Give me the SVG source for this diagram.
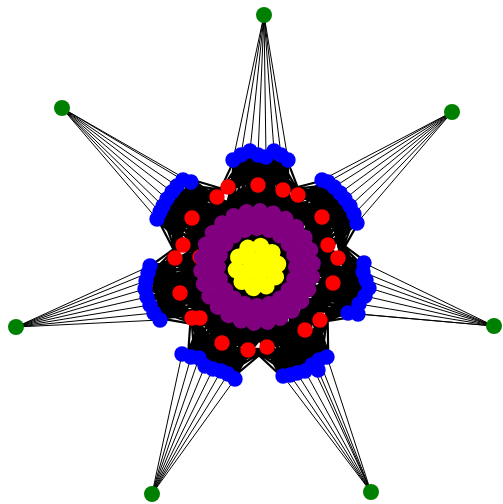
<svg xmlns="http://www.w3.org/2000/svg" xmlns:xlink="http://www.w3.org/1999/xlink" width="503" height="504" viewBox="0 0 503 504">
<style>
.e{fill:none;stroke:#000;stroke-width:1;stroke-linejoin:round}
.f{fill:none;stroke:#000;stroke-width:2.2;stroke-linejoin:round}
.s{fill:none;stroke:#000;stroke-width:3}
.g{fill:#008000}.b{fill:#0000ff}.r{fill:#ff0000}.pu{fill:#800080}.y{fill:#ffff00}
</style>
<defs>
<path id="fan" class="f" d="M228.3 217.8L232.4 160.3 235.4 214 232.4 160.3 243 211.2 232.4 160.3 250.9 209.6 232.4 160.3 259 209 232.4 160.3 267.1 209.6 232.4 160.3 275 211.2 232.4 160.3 282.6 214 232.4 160.3 289.7 217.8 232.4 160.3 259 185 232.4 160.3 287 190 232.4 160.3 300 196 232.4 160.3 229 191 232.4 160.3 216 197
M228.3 217.8L239.9 158.7 235.4 214 239.9 158.7 243 211.2 239.9 158.7 250.9 209.6 239.9 158.7 259 209 239.9 158.7 267.1 209.6 239.9 158.7 275 211.2 239.9 158.7 282.6 214 239.9 158.7 289.7 217.8 239.9 158.7 259 185 239.9 158.7 287 190 239.9 158.7 300 196 239.9 158.7 229 191 239.9 158.7 216 197
M228.3 217.8L247.5 157.6 235.4 214 247.5 157.6 243 211.2 247.5 157.6 250.9 209.6 247.5 157.6 259 209 247.5 157.6 267.1 209.6 247.5 157.6 275 211.2 247.5 157.6 282.6 214 247.5 157.6 289.7 217.8 247.5 157.6 259 185 247.5 157.6 287 190 247.5 157.6 300 196 247.5 157.6 229 191 247.5 157.6 216 197
M228.3 217.8L255.2 157.1 235.4 214 255.2 157.1 243 211.2 255.2 157.1 250.9 209.6 255.2 157.1 259 209 255.2 157.1 267.1 209.6 255.2 157.1 275 211.2 255.2 157.1 282.6 214 255.2 157.1 289.7 217.8 255.2 157.1 259 185 255.2 157.1 287 190 255.2 157.1 300 196 255.2 157.1 229 191 255.2 157.1 216 197
M228.3 217.8L262.8 157.1 235.4 214 262.8 157.1 243 211.2 262.8 157.1 250.9 209.6 262.8 157.1 259 209 262.8 157.1 267.1 209.6 262.8 157.1 275 211.2 262.8 157.1 282.6 214 262.8 157.1 289.7 217.8 262.8 157.1 259 185 262.8 157.1 287 190 262.8 157.1 300 196 262.8 157.1 229 191 262.8 157.1 216 197
M228.3 217.8L270.5 157.6 235.4 214 270.5 157.6 243 211.2 270.5 157.6 250.9 209.6 270.5 157.6 259 209 270.5 157.6 267.1 209.6 270.5 157.6 275 211.2 270.5 157.6 282.6 214 270.5 157.6 289.7 217.8 270.5 157.6 259 185 270.5 157.6 287 190 270.5 157.6 300 196 270.5 157.6 229 191 270.5 157.6 216 197
M228.3 217.8L278.1 158.7 235.4 214 278.1 158.7 243 211.2 278.1 158.7 250.9 209.6 278.1 158.7 259 209 278.1 158.7 267.1 209.6 278.1 158.7 275 211.2 278.1 158.7 282.6 214 278.1 158.7 289.7 217.8 278.1 158.7 259 185 278.1 158.7 287 190 278.1 158.7 300 196 278.1 158.7 229 191 278.1 158.7 216 197
M228.3 217.8L285.6 160.3 235.4 214 285.6 160.3 243 211.2 285.6 160.3 250.9 209.6 285.6 160.3 259 209 285.6 160.3 267.1 209.6 285.6 160.3 275 211.2 285.6 160.3 282.6 214 285.6 160.3 289.7 217.8 285.6 160.3 259 185 285.6 160.3 287 190 285.6 160.3 300 196 285.6 160.3 229 191 285.6 160.3 216 197
M243 211.2L259 185 250.9 209.6 259 185 259 209 259 185 267.1 209.6 259 185 275 211.2
M267.1 209.6L287 190 275 211.2 287 190 282.6 214 287 190 289.7 217.8 287 190 296.3 222.6
M282.6 214L300 196 289.7 217.8 300 196 296.3 222.6 300 196 302.1 228.2
M221.7 222.6L229 191 228.3 217.8 229 191 235.4 214 229 191 243 211.2 229 191 250.9 209.6
M215.9 228.2L216 197 221.7 222.6 216 197 228.3 217.8 216 197 235.4 214"/>
<path id="spk" class="s" d="M257 225L257 309M264.3 225.6L249.7 308.4M271.4 227.5L242.6 306.5M278 230.6L236 303.4M284 234.8L230 299.2M289.2 240L224.8 294M293.4 246L220.6 288M296.5 252.6L217.5 281.4M298.4 259.7L215.6 274.3M299 267L215 267M298.4 274.3L215.6 259.7M296.5 281.4L217.5 252.6M293.4 288L220.6 246M289.2 294L224.8 240M284 299.2L230 234.8M278 303.4L236 230.6M271.4 306.5L242.6 227.5M264.3 308.4L249.7 225.6"/>
<circle id="pa" class="pu" cx="257" cy="228" r="8"/>
<circle id="pb" class="pu" cx="257" cy="219.5" r="8"/>
<circle id="pc" class="pu" cx="257" cy="211" r="8"/>
<circle id="ya" class="y" cx="257" cy="246" r="8.5"/>
<circle id="yb" class="y" cx="257" cy="257" r="8.5"/>
</defs>
<g id="connectors">
<path class="e" d="M264 15L233 160M264 15L241 155M264 15L250 151M264 15L258 155M264 15L266 157M264 15L274 151M264 15L281 155M264 15L288 160"/>
<path class="e" d="M452 112L322 180M452 112L328 182M452 112L334 187M452 112L340 193M452 112L345 199M452 112L350 206M452 112L354 214M452 112L357 223"/>
<path class="e" d="M494 326L364 263M494 326L363 272M494 326L366 280M494 326L369 288M494 326L365 296M494 326L359 304M494 326L348 313M494 326L358 314"/>
<path class="e" d="M371 492L327 357M371 492L319 360M371 492L312 365M371 492L318 370M371 492L305 371M371 492L297 373M371 492L290 375M371 492L283 376"/>
<path class="e" d="M152 494L182 354M152 494L191 357M152 494L199 358M152 494L205 366M152 494L213 369M152 494L221 371M152 494L228 374M152 494L235 379"/>
<path class="e" d="M16 327L150 266M16 327L148 273M16 327L146 281M16 327L145 289M16 327L147 297M16 327L150 305M16 327L154 313M16 327L160 320"/>
<path class="e" d="M62 108L191 182M62 108L183 180M62 108L177 186M62 108L172 192M62 108L167 199M62 108L163 206M62 108L160 212M62 108L157 219"/>
<use href="#fan" transform="rotate(1 259 267)"/>
<use href="#fan" transform="rotate(51.5 259 267)"/>
<use href="#fan" transform="rotate(102.5 259 267)"/>
<use href="#fan" transform="rotate(155 259 267)"/>
<use href="#fan" transform="rotate(206 259 267)"/>
<use href="#fan" transform="rotate(256 259 267)"/>
<use href="#fan" transform="rotate(308.5 259 267)"/>
<use href="#spk"/>
<use href="#spk" transform="rotate(2.5 257 267)"/>
<use href="#spk" transform="rotate(5 257 267)"/>
<use href="#spk" transform="rotate(7.5 257 267)"/>
</g>
<g id="red-nodes">
<g id="r1"><circle class="r" cx="258" cy="185" r="7.7"/></g>
<g id="r2"><circle class="r" cx="228" cy="187" r="7.7"/></g>
<g id="r3"><circle class="r" cx="217" cy="197" r="7.7"/></g>
<g id="r4"><circle class="r" cx="283" cy="190" r="7.7"/></g>
<g id="r5"><circle class="r" cx="298" cy="195" r="7.7"/></g>
<g id="r6"><circle class="r" cx="322" cy="217" r="7.7"/></g>
<g id="r7"><circle class="r" cx="328" cy="245" r="7.7"/></g>
<g id="r8"><circle class="r" cx="338" cy="258" r="7.7"/></g>
<g id="r9"><circle class="r" cx="333" cy="283" r="7.7"/></g>
<g id="r10"><circle class="r" cx="320" cy="320" r="7.7"/></g>
<g id="r11"><circle class="r" cx="305" cy="330" r="7.7"/></g>
<g id="r12"><circle class="r" cx="267" cy="347" r="7.7"/></g>
<g id="r13"><circle class="r" cx="248" cy="350" r="7.7"/></g>
<g id="r14"><circle class="r" cx="222" cy="343" r="7.7"/></g>
<g id="r15"><circle class="r" cx="200" cy="318" r="7.7"/></g>
<g id="r16"><circle class="r" cx="192" cy="318" r="7.7"/></g>
<g id="r17"><circle class="r" cx="180" cy="293" r="7.7"/></g>
<g id="r18"><circle class="r" cx="175" cy="258" r="7.7"/></g>
<g id="r19"><circle class="r" cx="183" cy="245" r="7.7"/></g>
<g id="r20"><circle class="r" cx="192" cy="218" r="7.7"/></g>
<g id="r21"><circle class="r" cx="200" cy="257" r="7.7"/></g>
</g>
<g id="purple-nodes">
<g id="pa0" transform="rotate(0 257 267)"><use href="#pa"/></g>
<g id="pa1" transform="rotate(18 257 267)"><use href="#pa"/></g>
<g id="pa2" transform="rotate(36 257 267)"><use href="#pa"/></g>
<g id="pa3" transform="rotate(54 257 267)"><use href="#pa"/></g>
<g id="pa4" transform="rotate(72 257 267)"><use href="#pa"/></g>
<g id="pa5" transform="rotate(90 257 267)"><use href="#pa"/></g>
<g id="pa6" transform="rotate(108 257 267)"><use href="#pa"/></g>
<g id="pa7" transform="rotate(126 257 267)"><use href="#pa"/></g>
<g id="pa8" transform="rotate(144 257 267)"><use href="#pa"/></g>
<g id="pa9" transform="rotate(162 257 267)"><use href="#pa"/></g>
<g id="pa10" transform="rotate(180 257 267)"><use href="#pa"/></g>
<g id="pa11" transform="rotate(198 257 267)"><use href="#pa"/></g>
<g id="pa12" transform="rotate(216 257 267)"><use href="#pa"/></g>
<g id="pa13" transform="rotate(234 257 267)"><use href="#pa"/></g>
<g id="pa14" transform="rotate(252 257 267)"><use href="#pa"/></g>
<g id="pa15" transform="rotate(270 257 267)"><use href="#pa"/></g>
<g id="pa16" transform="rotate(288 257 267)"><use href="#pa"/></g>
<g id="pa17" transform="rotate(306 257 267)"><use href="#pa"/></g>
<g id="pa18" transform="rotate(324 257 267)"><use href="#pa"/></g>
<g id="pa19" transform="rotate(342 257 267)"><use href="#pa"/></g>
<g id="pb0" transform="rotate(8 257 267)"><use href="#pb"/></g>
<g id="pb1" transform="rotate(24.36 257 267)"><use href="#pb"/></g>
<g id="pb2" transform="rotate(40.73 257 267)"><use href="#pb"/></g>
<g id="pb3" transform="rotate(57.09 257 267)"><use href="#pb"/></g>
<g id="pb4" transform="rotate(73.45 257 267)"><use href="#pb"/></g>
<g id="pb5" transform="rotate(89.82 257 267)"><use href="#pb"/></g>
<g id="pb6" transform="rotate(106.18 257 267)"><use href="#pb"/></g>
<g id="pb7" transform="rotate(122.55 257 267)"><use href="#pb"/></g>
<g id="pb8" transform="rotate(138.91 257 267)"><use href="#pb"/></g>
<g id="pb9" transform="rotate(155.27 257 267)"><use href="#pb"/></g>
<g id="pb10" transform="rotate(171.64 257 267)"><use href="#pb"/></g>
<g id="pb11" transform="rotate(188 257 267)"><use href="#pb"/></g>
<g id="pb12" transform="rotate(204.36 257 267)"><use href="#pb"/></g>
<g id="pb13" transform="rotate(220.73 257 267)"><use href="#pb"/></g>
<g id="pb14" transform="rotate(237.09 257 267)"><use href="#pb"/></g>
<g id="pb15" transform="rotate(253.45 257 267)"><use href="#pb"/></g>
<g id="pb16" transform="rotate(269.82 257 267)"><use href="#pb"/></g>
<g id="pb17" transform="rotate(286.18 257 267)"><use href="#pb"/></g>
<g id="pb18" transform="rotate(302.55 257 267)"><use href="#pb"/></g>
<g id="pb19" transform="rotate(318.91 257 267)"><use href="#pb"/></g>
<g id="pb20" transform="rotate(335.27 257 267)"><use href="#pb"/></g>
<g id="pb21" transform="rotate(351.64 257 267)"><use href="#pb"/></g>
<g id="pc0" transform="rotate(3 257 267)"><use href="#pc"/></g>
<g id="pc1" transform="rotate(16.85 257 267)"><use href="#pc"/></g>
<g id="pc2" transform="rotate(30.69 257 267)"><use href="#pc"/></g>
<g id="pc3" transform="rotate(44.54 257 267)"><use href="#pc"/></g>
<g id="pc4" transform="rotate(58.38 257 267)"><use href="#pc"/></g>
<g id="pc5" transform="rotate(72.23 257 267)"><use href="#pc"/></g>
<g id="pc6" transform="rotate(86.08 257 267)"><use href="#pc"/></g>
<g id="pc7" transform="rotate(99.92 257 267)"><use href="#pc"/></g>
<g id="pc8" transform="rotate(113.77 257 267)"><use href="#pc"/></g>
<g id="pc9" transform="rotate(127.62 257 267)"><use href="#pc"/></g>
<g id="pc10" transform="rotate(141.46 257 267)"><use href="#pc"/></g>
<g id="pc11" transform="rotate(155.31 257 267)"><use href="#pc"/></g>
<g id="pc12" transform="rotate(169.15 257 267)"><use href="#pc"/></g>
<g id="pc13" transform="rotate(183 257 267)"><use href="#pc"/></g>
<g id="pc14" transform="rotate(196.85 257 267)"><use href="#pc"/></g>
<g id="pc15" transform="rotate(210.69 257 267)"><use href="#pc"/></g>
<g id="pc16" transform="rotate(224.54 257 267)"><use href="#pc"/></g>
<g id="pc17" transform="rotate(238.38 257 267)"><use href="#pc"/></g>
<g id="pc18" transform="rotate(252.23 257 267)"><use href="#pc"/></g>
<g id="pc19" transform="rotate(266.08 257 267)"><use href="#pc"/></g>
<g id="pc20" transform="rotate(279.92 257 267)"><use href="#pc"/></g>
<g id="pc21" transform="rotate(293.77 257 267)"><use href="#pc"/></g>
<g id="pc22" transform="rotate(307.62 257 267)"><use href="#pc"/></g>
<g id="pc23" transform="rotate(321.46 257 267)"><use href="#pc"/></g>
<g id="pc24" transform="rotate(335.31 257 267)"><use href="#pc"/></g>
<g id="pc25" transform="rotate(349.15 257 267)"><use href="#pc"/></g>
</g>
<g id="yellow-nodes">
<g id="y0"><circle class="y" cx="257" cy="267" r="8.5"/></g>
<g id="ya0" transform="rotate(10 257 267)"><use href="#ya"/></g>
<g id="ya1" transform="rotate(46 257 267)"><use href="#ya"/></g>
<g id="ya2" transform="rotate(82 257 267)"><use href="#ya"/></g>
<g id="ya3" transform="rotate(118 257 267)"><use href="#ya"/></g>
<g id="ya4" transform="rotate(154 257 267)"><use href="#ya"/></g>
<g id="ya5" transform="rotate(190 257 267)"><use href="#ya"/></g>
<g id="ya6" transform="rotate(226 257 267)"><use href="#ya"/></g>
<g id="ya7" transform="rotate(262 257 267)"><use href="#ya"/></g>
<g id="ya8" transform="rotate(298 257 267)"><use href="#ya"/></g>
<g id="ya9" transform="rotate(334 257 267)"><use href="#ya"/></g>
<g id="yb0" transform="rotate(30 257 267)"><use href="#yb"/></g>
<g id="yb1" transform="rotate(102 257 267)"><use href="#yb"/></g>
<g id="yb2" transform="rotate(174 257 267)"><use href="#yb"/></g>
<g id="yb3" transform="rotate(246 257 267)"><use href="#yb"/></g>
<g id="yb4" transform="rotate(318 257 267)"><use href="#yb"/></g>
</g>
<g id="blue-nodes">
<g id="bt1"><circle class="b" cx="233" cy="160" r="7.7"/></g>
<g id="bt2"><circle class="b" cx="241" cy="155" r="7.7"/></g>
<g id="bt3"><circle class="b" cx="250" cy="151" r="7.7"/></g>
<g id="bt4"><circle class="b" cx="258" cy="155" r="7.7"/></g>
<g id="bt5"><circle class="b" cx="266" cy="157" r="7.7"/></g>
<g id="bt6"><circle class="b" cx="274" cy="151" r="7.7"/></g>
<g id="bt7"><circle class="b" cx="281" cy="155" r="7.7"/></g>
<g id="bt8"><circle class="b" cx="288" cy="160" r="7.7"/></g>
<g id="bur1"><circle class="b" cx="322" cy="180" r="7.7"/></g>
<g id="bur2"><circle class="b" cx="328" cy="182" r="7.7"/></g>
<g id="bur3"><circle class="b" cx="334" cy="187" r="7.7"/></g>
<g id="bur4"><circle class="b" cx="340" cy="193" r="7.7"/></g>
<g id="bur5"><circle class="b" cx="345" cy="199" r="7.7"/></g>
<g id="bur6"><circle class="b" cx="350" cy="206" r="7.7"/></g>
<g id="bur7"><circle class="b" cx="354" cy="214" r="7.7"/></g>
<g id="bur8"><circle class="b" cx="357" cy="223" r="7.7"/></g>
<g id="br1"><circle class="b" cx="364" cy="263" r="7.7"/></g>
<g id="br2"><circle class="b" cx="363" cy="272" r="7.7"/></g>
<g id="br3"><circle class="b" cx="366" cy="280" r="7.7"/></g>
<g id="br4"><circle class="b" cx="369" cy="288" r="7.7"/></g>
<g id="br5"><circle class="b" cx="365" cy="296" r="7.7"/></g>
<g id="br6"><circle class="b" cx="359" cy="304" r="7.7"/></g>
<g id="br7"><circle class="b" cx="348" cy="313" r="7.7"/></g>
<g id="br8"><circle class="b" cx="358" cy="314" r="7.7"/></g>
<g id="bbr1"><circle class="b" cx="327" cy="357" r="7.7"/></g>
<g id="bbr2"><circle class="b" cx="319" cy="360" r="7.7"/></g>
<g id="bbr3"><circle class="b" cx="312" cy="365" r="7.7"/></g>
<g id="bbr4"><circle class="b" cx="318" cy="370" r="7.7"/></g>
<g id="bbr5"><circle class="b" cx="305" cy="371" r="7.7"/></g>
<g id="bbr6"><circle class="b" cx="297" cy="373" r="7.7"/></g>
<g id="bbr7"><circle class="b" cx="290" cy="375" r="7.7"/></g>
<g id="bbr8"><circle class="b" cx="283" cy="376" r="7.7"/></g>
<g id="bbl1"><circle class="b" cx="182" cy="354" r="7.7"/></g>
<g id="bbl2"><circle class="b" cx="191" cy="357" r="7.7"/></g>
<g id="bbl3"><circle class="b" cx="199" cy="358" r="7.7"/></g>
<g id="bbl4"><circle class="b" cx="205" cy="366" r="7.7"/></g>
<g id="bbl5"><circle class="b" cx="213" cy="369" r="7.7"/></g>
<g id="bbl6"><circle class="b" cx="221" cy="371" r="7.7"/></g>
<g id="bbl7"><circle class="b" cx="228" cy="374" r="7.7"/></g>
<g id="bbl8"><circle class="b" cx="235" cy="379" r="7.7"/></g>
<g id="bl1"><circle class="b" cx="150" cy="266" r="7.7"/></g>
<g id="bl2"><circle class="b" cx="148" cy="273" r="7.7"/></g>
<g id="bl3"><circle class="b" cx="146" cy="281" r="7.7"/></g>
<g id="bl4"><circle class="b" cx="145" cy="289" r="7.7"/></g>
<g id="bl5"><circle class="b" cx="147" cy="297" r="7.7"/></g>
<g id="bl6"><circle class="b" cx="150" cy="305" r="7.7"/></g>
<g id="bl7"><circle class="b" cx="154" cy="313" r="7.7"/></g>
<g id="bl8"><circle class="b" cx="160" cy="320" r="7.7"/></g>
<g id="bul1"><circle class="b" cx="191" cy="182" r="7.7"/></g>
<g id="bul2"><circle class="b" cx="183" cy="180" r="7.7"/></g>
<g id="bul3"><circle class="b" cx="177" cy="186" r="7.7"/></g>
<g id="bul4"><circle class="b" cx="172" cy="192" r="7.7"/></g>
<g id="bul5"><circle class="b" cx="167" cy="199" r="7.7"/></g>
<g id="bul6"><circle class="b" cx="163" cy="206" r="7.7"/></g>
<g id="bul7"><circle class="b" cx="160" cy="212" r="7.7"/></g>
<g id="bul8"><circle class="b" cx="157" cy="219" r="7.7"/></g>
</g>
<g id="green-nodes">
<g id="g1"><circle class="g" cx="264" cy="15" r="8"/></g>
<g id="g2"><circle class="g" cx="452" cy="112" r="8"/></g>
<g id="g3"><circle class="g" cx="494" cy="326" r="8"/></g>
<g id="g4"><circle class="g" cx="371" cy="492" r="8"/></g>
<g id="g5"><circle class="g" cx="152" cy="494" r="8"/></g>
<g id="g6"><circle class="g" cx="16" cy="327" r="8"/></g>
<g id="g7"><circle class="g" cx="62" cy="108" r="8"/></g>
</g>
</svg>
